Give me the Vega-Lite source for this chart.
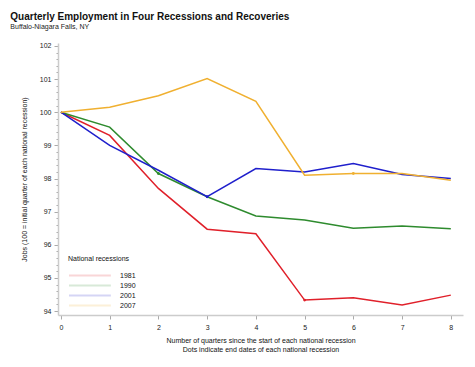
{
  "$schema": "https://vega.github.io/schema/vega-lite/v6.json",
  "width": 405,
  "height": 272,
  "padding": {"left": 10, "top": 11, "right": 5, "bottom": 5},
  "background": "white",
  "config": {"view": {"stroke": null}, "font": "Liberation Sans"},
  "title": {
    "text": "Quarterly Employment in Four Recessions and Recoveries",
    "subtitle": "Buffalo-Niagara Falls, NY",
    "anchor": "start",
    "frame": "bounds",
    "dx": -10,
    "dy": -4,
    "fontSize": 10,
    "fontWeight": "bold",
    "color": "#111",
    "subtitleFontSize": 7,
    "subtitleColor": "#222",
    "subtitlePadding": 1,
    "offset": 8
  },
  "data": {
    "values": [
      {"q": 0, "rec": "1981", "v": 100, "end": false},
      {"q": 1, "rec": "1981", "v": 99.3, "end": false},
      {"q": 2, "rec": "1981", "v": 97.7, "end": false},
      {"q": 3, "rec": "1981", "v": 96.47, "end": false},
      {"q": 4, "rec": "1981", "v": 96.33, "end": false},
      {"q": 5, "rec": "1981", "v": 94.33, "end": true},
      {"q": 6, "rec": "1981", "v": 94.4, "end": false},
      {"q": 7, "rec": "1981", "v": 94.18, "end": false},
      {"q": 8, "rec": "1981", "v": 94.48, "end": false},
      {"q": 0, "rec": "1990", "v": 100, "end": false},
      {"q": 1, "rec": "1990", "v": 99.55, "end": false},
      {"q": 2, "rec": "1990", "v": 98.15, "end": true},
      {"q": 3, "rec": "1990", "v": 97.45, "end": false},
      {"q": 4, "rec": "1990", "v": 96.87, "end": false},
      {"q": 5, "rec": "1990", "v": 96.75, "end": false},
      {"q": 6, "rec": "1990", "v": 96.5, "end": false},
      {"q": 7, "rec": "1990", "v": 96.57, "end": false},
      {"q": 8, "rec": "1990", "v": 96.48, "end": false},
      {"q": 0, "rec": "2001", "v": 100, "end": false},
      {"q": 1, "rec": "2001", "v": 99.0, "end": false},
      {"q": 2, "rec": "2001", "v": 98.25, "end": false},
      {"q": 3, "rec": "2001", "v": 97.45, "end": true},
      {"q": 4, "rec": "2001", "v": 98.3, "end": false},
      {"q": 5, "rec": "2001", "v": 98.2, "end": false},
      {"q": 6, "rec": "2001", "v": 98.45, "end": false},
      {"q": 7, "rec": "2001", "v": 98.12, "end": false},
      {"q": 8, "rec": "2001", "v": 98.0, "end": false},
      {"q": 0, "rec": "2007", "v": 100, "end": false},
      {"q": 1, "rec": "2007", "v": 100.15, "end": false},
      {"q": 2, "rec": "2007", "v": 100.5, "end": false},
      {"q": 3, "rec": "2007", "v": 101.02, "end": false},
      {"q": 4, "rec": "2007", "v": 100.33, "end": false},
      {"q": 5, "rec": "2007", "v": 98.1, "end": false},
      {"q": 6, "rec": "2007", "v": 98.15, "end": true},
      {"q": 7, "rec": "2007", "v": 98.15, "end": false},
      {"q": 8, "rec": "2007", "v": 97.95, "end": false}
    ]
  },
  "encoding": {
    "x": {
      "field": "q", "type": "quantitative",
      "scale": {"domain": [-0.06, 8.25], "nice": false, "zero": false},
      "axis": {
        "values": [0, 1, 2, 3, 4, 5, 6, 7, 8],
        "grid": false,
        "domainColor": "#cccccc",
        "domainWidth": 1.5,
        "tickColor": "#aaaaaa",
        "tickSize": 4,
        "labelFontSize": 7,
        "labelColor": "#222",
        "labelPadding": 4,
        "title": ["Number of quarters since the start of each national recession", "Dots indicate end dates of each national recession"],
        "titleFontSize": 7,
        "titleFontWeight": "normal",
        "titleColor": "#111",
        "titlePadding": 6,
        "titleLineHeight": 9
      }
    },
    "y": {
      "field": "v", "type": "quantitative",
      "scale": {"domain": [93.88, 102.09], "nice": false, "zero": false},
      "axis": {
        "values": [94, 94.2, 94.4, 94.6, 94.8, 95, 95.2, 95.4, 95.6, 95.8, 96, 96.2, 96.4, 96.6, 96.8, 97, 97.2, 97.4, 97.6, 97.8, 98, 98.2, 98.4, 98.6, 98.8, 99, 99.2, 99.4, 99.6, 99.8, 100, 100.2, 100.4, 100.6, 100.8, 101, 101.2, 101.4, 101.6, 101.8, 102],
        "labelExpr": "datum.value % 1 === 0 ? format(datum.value, 'd') : ''",
        "labelOverlap": false,
        "grid": false,
        "domainColor": "#cccccc",
        "domainWidth": 1.5,
        "tickColor": "#aaaaaa",
        "tickSize": {"condition": {"test": "datum.value % 1 === 0", "value": 4}, "value": 2},
        "labelFontSize": 7,
        "labelColor": "#222",
        "labelPadding": 3,
        "title": "Jobs (100 = initial quarter of each national recession)",
        "titleFontSize": 7,
        "titleFontWeight": "normal",
        "titleColor": "#111",
        "titlePadding": 12
      }
    },
    "color": {
      "field": "rec", "type": "nominal",
      "scale": {"domain": ["1981", "1990", "2001", "2007"], "range": ["#e0202a", "#2e8b2e", "#1f1fcc", "#f0b030"]},
      "legend": {
        "title": "National recessions",
        "orient": "none",
        "legendX": 10,
        "legendY": 212,
        "titleFontSize": 7,
        "titleFontWeight": "normal",
        "titleColor": "#111",
        "titlePadding": 8,
        "labelFontSize": 7,
        "labelColor": "#111",
        "symbolType": "M-1,0H8.3",
        "symbolSize": 81,
        "symbolStrokeWidth": 2,
        "symbolOpacity": 0.18,
        "rowPadding": -1,
        "labelOffset": 41
      }
    }
  },
  "layer": [
    {"mark": {"type": "line", "strokeWidth": 1.5}},
    {
      "transform": [{"filter": "datum.end"}],
      "mark": {"type": "circle", "size": 8, "opacity": 1}
    }
  ]
}
